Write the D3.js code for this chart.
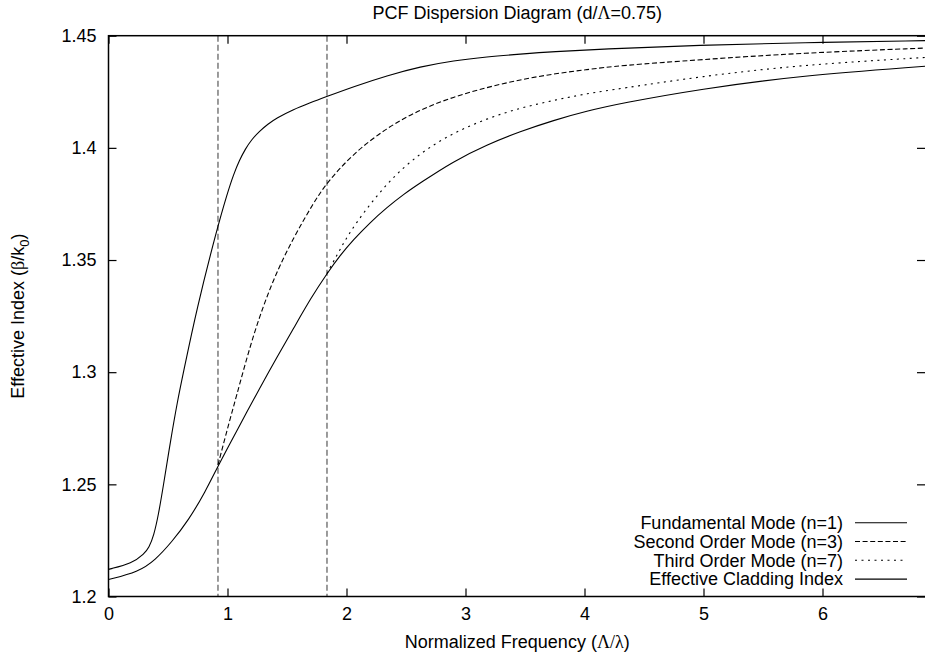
<!DOCTYPE html>
<meta charset="utf-8">
<style>

body {
  margin: 0;
  background: #fff;
}

text {
  font-family: "Liberation Sans", Arial, Helvetica, sans-serif;
  font-size: 18px;
  fill: #000;
}

.greek {
  font-family: "Liberation Serif", "DejaVu Serif", serif;
}

.axis path {
  display: none;
}

.axis line {
  stroke: #000;
  stroke-width: 1.2;
}

.border {
  fill: none;
  stroke: #000;
  stroke-width: 1.5;
}

.mode {
  fill: none;
  stroke: #000;
  stroke-width: 1.1;
}

.cutoff {
  stroke: #666;
  stroke-width: 1.3;
  stroke-dasharray: 6,3;
}

</style>
<svg width="925" height="660"></svg>
<script src="https://d3js.org/d3.v7.min.js"></script>
<script>

var svg = d3.select("svg"),
    width = +svg.attr("width"),
    height = +svg.attr("height");

// plot box (right edge runs just past the window)
var plotLeft = 108.5, plotRight = 926, plotTop = 35.7, plotBottom = 596.5;

// values
var xTicks = [0, 1, 2, 3, 4, 5, 6];
var yTicks = [1.2, 1.25, 1.3, 1.35, 1.4, 1.45];
var yTickLabels = ["1.2", "1.25", "1.3", "1.35", "1.4", "1.45"];

var cutoffs = [0.92, 1.836];

var fundX = [0, 0.2, 0.3, 0.34, 0.38, 0.42, 0.46, 0.52, 0.58, 0.63, 0.74, 0.91, 1.0, 1.05, 1.1, 1.15, 1.2, 1.27, 1.34, 1.41, 1.55, 1.69, 1.83, 2.06, 2.34, 2.62, 2.9, 3.18, 3.46, 3.74, 4.13, 4.97, 5.82, 6.87];
var fundY = [1.2121, 1.2148, 1.2190, 1.2218, 1.2270, 1.2365, 1.2490, 1.2690, 1.2873, 1.300, 1.328, 1.3636, 1.3800, 1.3880, 1.3945, 1.3995, 1.4035, 1.4075, 1.4106, 1.4132, 1.4170, 1.4200, 1.4228, 1.4273, 1.4322, 1.4362, 1.4389, 1.4406, 1.4418, 1.4429, 1.4440, 1.4458, 1.4469, 1.4478];

var secondX = [0.92, 0.995, 1.065, 1.218, 1.387, 1.555, 1.723, 1.835, 2.057, 2.337, 2.618, 2.898, 3.18, 3.46, 3.74, 4.02, 4.3, 4.97, 5.82, 6.87];
var secondY = [1.2586, 1.274, 1.2873, 1.3174, 1.3420, 1.3600, 1.3755, 1.3845, 1.3975, 1.4089, 1.4171, 1.4227, 1.427, 1.4304, 1.433, 1.4349, 1.4367, 1.4393, 1.4423, 1.4445];

var thirdX = [1.836, 1.95, 2.057, 2.337, 2.618, 2.898, 3.18, 3.46, 3.74, 4.02, 4.3, 4.97, 5.82, 6.87];
var thirdY = [1.3440, 1.3552, 1.3651, 1.3845, 1.3978, 1.4067, 1.4131, 1.4178, 1.4212, 1.4242, 1.4264, 1.4318, 1.437, 1.4403];

var cladX = [0, 0.252, 0.392, 0.533, 0.672, 0.813, 0.924, 1.08, 1.275, 1.42, 1.555, 1.70, 1.836, 1.95, 2.057, 2.2, 2.337, 2.48, 2.618, 2.898, 3.18, 3.46, 3.74, 4.02, 4.3, 4.97, 5.82, 6.87];
var cladY = [1.2076, 1.211, 1.2162, 1.2244, 1.234, 1.2466, 1.2586, 1.2741, 1.2933, 1.3071, 1.3195, 1.3330, 1.3440, 1.3523, 1.3590, 1.3668, 1.3733, 1.3793, 1.3843, 1.3940, 1.4014, 1.4073, 1.4123, 1.4164, 1.4198, 1.4262, 1.4322, 1.4364];

var legendLabels = ["Fundamental Mode (n=1)", "Second Order Mode (n=3)", "Third Order Mode (n=7)", "Effective Cladding Index"];

var series = [
  {name: legendLabels[0], xs: fundX, ys: fundY, dash: null},
  {name: legendLabels[1], xs: secondX, ys: secondY, dash: "5,2.6"},
  {name: legendLabels[2], xs: thirdX, ys: thirdY, dash: "2,4.5"},
  {name: legendLabels[3], xs: cladX, ys: cladY, dash: null}
];

var x = d3.scaleLinear()
    .domain([0, (plotRight - plotLeft) / 119])
    .range([plotLeft, plotRight]);

var y = d3.scaleLinear()
    .domain([1.2, 1.45])
    .range([plotBottom, plotTop]);

// basis smooths out the small reading errors between points
var line = d3.line()
    .x(function(d) { return x(d[0]); })
    .y(function(d) { return y(d[1]); })
    .curve(d3.curveBasis);

// cut-off lines
svg.selectAll(".cutoff")
  .data(cutoffs)
  .enter().append("line")
    .attr("class", "cutoff")
    .attr("x1", function(d) { return x(d); })
    .attr("x2", function(d) { return x(d); })
    .attr("y1", plotTop)
    .attr("y2", plotBottom);

// curves
svg.selectAll(".mode")
  .data(series)
  .enter().append("path")
    .attr("class", "mode")
    .attr("stroke-dasharray", function(d) { return d.dash; })
    .attr("d", function(d) { return line(d.xs.map(function(v, i) { return [v, d.ys[i]]; })); });

// axes, ticks pointing inwards on all four sides
svg.append("g")
    .attr("class", "axis")
    .attr("transform", "translate(0," + plotBottom + ")")
    .call(d3.axisBottom(x).tickValues(xTicks).tickSize(-8).tickPadding(11).tickFormat(d3.format("d")))
  .selectAll("text")
    .style("font-size", "18px");

svg.append("g")
    .attr("class", "axis")
    .attr("transform", "translate(0," + plotTop + ")")
    .call(d3.axisTop(x).tickValues(xTicks).tickSize(-8).tickFormat(""));

svg.append("g")
    .attr("class", "axis")
    .attr("transform", "translate(" + plotLeft + ",0)")
    .call(d3.axisLeft(y).tickValues(yTicks).tickSize(-8).tickPadding(12)
      .tickFormat(function(d, i) { return yTickLabels[i]; }))
  .selectAll("text")
    .style("font-size", "18px");

svg.append("g")
    .attr("class", "axis")
    .attr("transform", "translate(" + (plotRight - 1) + ",0)")
    .call(d3.axisRight(y).tickValues(yTicks).tickSize(-8).tickFormat(""));

svg.append("rect")
    .attr("class", "border")
    .attr("x", plotLeft)
    .attr("y", plotTop)
    .attr("width", plotRight - plotLeft)
    .attr("height", plotBottom - plotTop);

// title
var title = svg.append("text")
    .attr("x", (plotLeft + plotRight) / 2)
    .attr("y", 19)
    .attr("text-anchor", "middle");
title.append("tspan").text("PCF Dispersion Diagram (d/");
title.append("tspan").attr("class", "greek").text("Λ");
title.append("tspan").text("=0.75)");

// x label
var xlab = svg.append("text")
    .attr("x", (plotLeft + plotRight) / 2)
    .attr("y", 648)
    .attr("text-anchor", "middle");
xlab.append("tspan").text("Normalized Frequency (");
xlab.append("tspan").attr("class", "greek").text("Λ/λ");
xlab.append("tspan").text(")");

// y label
var ylab = svg.append("text")
    .attr("transform", "translate(24," + ((plotTop + plotBottom) / 2) + ") rotate(-90)")
    .attr("text-anchor", "middle");
ylab.append("tspan").text("Effective Index (");
ylab.append("tspan").attr("class", "greek").text("β");
ylab.append("tspan").text("/k");
ylab.append("tspan").attr("dy", 5).style("font-size", "13px").text("0");
ylab.append("tspan").attr("dy", -5).text(")");

// legend
var legend = svg.selectAll(".legend")
    .data(series)
  .enter().append("g")
    .attr("class", "legend")
    .attr("transform", function(d, i) { return "translate(0," + (522.7 + i * 18.8) + ")"; });

legend.append("text")
    .attr("x", 843)
    .attr("dy", "0.35em")
    .attr("text-anchor", "end")
    .text(function(d) { return d.name; });

legend.append("line")
    .attr("class", "mode")
    .attr("x1", 855)
    .attr("x2", 907)
    .attr("stroke-dasharray", function(d) { return d.dash; });

</script>
